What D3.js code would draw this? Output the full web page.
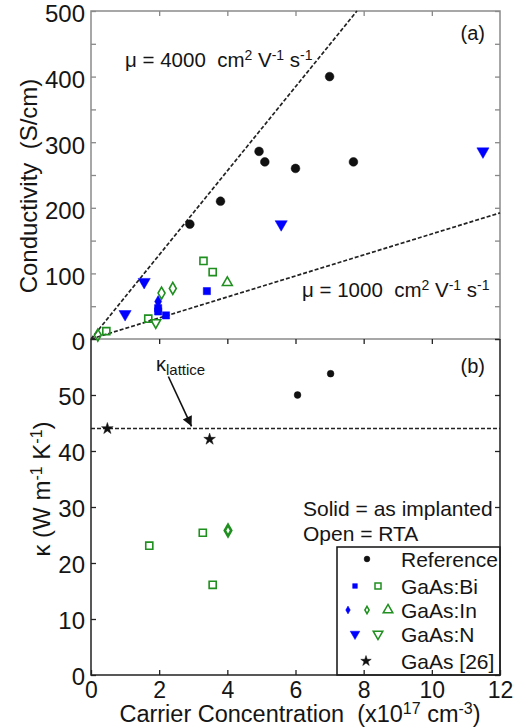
<!DOCTYPE html>
<html>
<head>
<meta charset="utf-8">
<script src="https://cdn.jsdelivr.net/npm/d3@7"></script>
<style>
  body { margin: 0; background: #fff; }
  svg { display: block; font-family: "Liberation Sans", Arial, sans-serif; }
  text { fill: #151515; }
</style>
</head>
<body>
<svg id="chart" width="516" height="727"></svg>
<script>
// carrier concentration (x1e17 cm^-3) vs conductivity (S/cm), panel (a)
var referenceSigma = [[2.9,175],[3.8,210],[4.93,286],[5.1,270],[6.0,260],[7.0,400],[7.7,270]];
var biSolidSigma = [[1.97,47],[1.97,42],[2.2,36],[3.4,73]];
var biRtaSigma = [[0.45,12],[1.68,31],[3.3,119],[3.57,102]];
var inSolidSigma = [[1.97,57]];
var inRtaSigma = [[0.2,6],[2.07,70],[2.4,77]];
var inTriSigma = [[4.0,86]];
var nSolidSigma = [[1.0,38],[1.56,87],[5.58,175],[11.5,286]];
var nRtaSigma = [[1.9,25]];
var mobilities = [4000, 1000];

// panel (b) thermal conductivity (W m-1 K-1)
var referenceKappa = [[6.06,50],[7.03,53.8]];
var biRtaKappa = [[1.71,23.1],[3.28,25.4],[3.57,16.1]];
var inRtaKappa = [[4.02,25.8]];
var gaasKappa = [[0.48,44],[3.48,42.1]];
var kappaLattice = 44;

var xTicks = [0,2,4,6,8,10,12];
var sigmaTicks = d3.range(0, 501, 50);
var kappaTicks = [0,10,20,30,40,50,60];
var legendRows = ["Reference", "GaAs:Bi", "GaAs:In", "GaAs:N", "GaAs [26]"];

var BLUE = "#0000ff", GREEN = "#1f8f1f", BLACK = "#111";

var svg = d3.select("#chart");
var L = 91, R = 500, T = 11, M = 339, B = 675;

var x = d3.scaleLinear().domain([0, 12]).range([L, R]);
var yTop = d3.scaleLinear().domain([0, 500]).range([M, T]);
var yBot = d3.scaleLinear().domain([0, 60]).range([B, M]);

function styleAxis(g, col, fs) {
  g.select(".domain").remove();
  g.selectAll(".tick line").attr("stroke", col).attr("stroke-width", 1.3);
  g.selectAll(".tick text").attr("fill", "#151515").style("font-size", (fs || 24) + "px")
    .attr("font-family", "Liberation Sans, Arial, sans-serif");
}

// ---- panel (a) ----
svg.append("g").attr("transform", "translate(" + L + ",0)")
  .call(d3.axisLeft(yTop).tickValues(sigmaTicks).tickSizeInner(-5).tickSizeOuter(0).tickPadding(6)
    .tickFormat(function(d){ return d % 100 === 0 ? d : ""; }))
  .call(styleAxis, "#888")
  .selectAll(".tick text").attr("dy", "0.45em");
svg.append("g").attr("transform", "translate(" + R + ",0)")
  .call(d3.axisRight(yTop).tickValues(sigmaTicks).tickSizeInner(-5).tickSizeOuter(0).tickFormat(""))
  .call(styleAxis, "#888");
svg.append("g").attr("transform", "translate(0," + T + ")")
  .call(d3.axisTop(x).tickValues(xTicks.slice(1, -1)).tickSizeInner(-5).tickSizeOuter(0).tickFormat(""))
  .call(styleAxis, "#888");

svg.append("rect").attr("x", L).attr("y", T).attr("width", R - L).attr("height", M - T)
  .attr("fill", "none").attr("stroke", "#8a8a8a").attr("stroke-width", 1.5);

// mobility lines sigma = n q mu
mobilities.forEach(function(mu) {
  var slope = mu * 1.602e-19 * 1e17;
  var xEnd = Math.min(12, 500 / slope);
  svg.append("line")
    .attr("x1", x(0)).attr("y1", yTop(0))
    .attr("x2", x(xEnd)).attr("y2", yTop(xEnd * slope))
    .attr("stroke", "#222").attr("stroke-width", 1.7).attr("stroke-dasharray", "4,2");
});

function muLabel(tx, ty, mu) {
  var t = svg.append("text").attr("x", tx).attr("y", ty).style("font-size", "20.5px")
    .attr("xml:space", "preserve");
  t.append("tspan").text("\u03bc = " + mu + "  cm");
  t.append("tspan").attr("dy", -7).style("font-size", "14px").text("2");
  t.append("tspan").attr("dy", 7).text(" V");
  t.append("tspan").attr("dy", -7).style("font-size", "14px").text("-1");
  t.append("tspan").attr("dy", 7).text(" s");
  t.append("tspan").attr("dy", -7).style("font-size", "14px").text("-1");
}
muLabel(125, 67, mobilities[0]);
muLabel(302, 297, mobilities[1]);

svg.append("text").attr("x", 485).attr("y", 40).attr("text-anchor", "end")
  .style("font-size", "20px").text("(a)");

// ---- panel (b) ----
svg.append("g").attr("transform", "translate(" + L + ",0)")
  .call(d3.axisLeft(yBot).tickValues(kappaTicks).tickSizeInner(-5).tickSizeOuter(0).tickPadding(6)
    .tickFormat(function(d){ return d === 60 ? "" : d; }))
  .call(styleAxis, "#222")
  .selectAll(".tick text").attr("dy", "0.4em");
svg.append("g").attr("transform", "translate(" + R + ",0)")
  .call(d3.axisRight(yBot).tickValues(kappaTicks).tickSizeInner(-5).tickSizeOuter(0).tickFormat(""))
  .call(styleAxis, "#222");
svg.append("g").attr("transform", "translate(0," + M + ")")
  .call(d3.axisTop(x).tickValues(xTicks.slice(1, -1)).tickSizeInner(-5).tickSizeOuter(0).tickFormat(""))
  .call(styleAxis, "#222");

// lattice line
svg.append("line").attr("x1", x(0)).attr("x2", x(12))
  .attr("y1", yBot(kappaLattice)).attr("y2", yBot(kappaLattice))
  .attr("stroke", "#222").attr("stroke-width", 1.5).attr("stroke-dasharray", "4,2");

svg.append("defs").append("marker").attr("id", "head")
  .attr("viewBox", "0 0 10 10").attr("refX", 10).attr("refY", 5)
  .attr("markerWidth", 14).attr("markerHeight", 10).attr("markerUnits", "userSpaceOnUse")
  .attr("orient", "auto")
  .append("path").attr("d", "M0,0L10,5L0,10z").attr("fill", "#111");
svg.append("line")
  .attr("x1", x(2.27)).attr("y1", yBot(53.3))
  .attr("x2", x(2.95)).attr("y2", yBot(44.4))
  .attr("stroke", "#111").attr("stroke-width", 1.6).attr("marker-end", "url(#head)");

var kl = svg.append("text").attr("x", 156).attr("y", 371).style("font-size", "20px");
kl.append("tspan").text("\u03ba");
kl.append("tspan").attr("dy", 4).style("font-size", "15px").text("lattice");

svg.append("text").attr("x", 485).attr("y", 373).attr("text-anchor", "end")
  .style("font-size", "20px").text("(b)");

svg.append("text").attr("x", 303).attr("y", 516).style("font-size", "21px").text("Solid = as implanted");
svg.append("text").attr("x", 303).attr("y", 541).style("font-size", "21px").text("Open = RTA");

// ---- markers ----
var sym = {
  circle: d3.symbol().type(d3.symbolCircle),
  square: d3.symbol().type(d3.symbolSquare),
  diamond: d3.symbol().type(d3.symbolDiamond),
  tri: d3.symbol().type(d3.symbolTriangle),
  star: d3.symbol().type(d3.symbolStar)
};

function plot(data, y, shape, size, col, filled, rot, sw) {
  svg.append("g").selectAll("path").data(data).join("path")
    .attr("d", sym[shape].size(size)())
    .attr("transform", function(d) {
      return "translate(" + x(d[0]) + "," + y(d[1]) + ")" + (rot ? " rotate(" + rot + ")" : "");
    })
    .attr("fill", filled ? col : "none")
    .attr("stroke", col).attr("stroke-width", sw || (filled ? 0.5 : 1.6));
}

plot(referenceSigma, yTop, "circle", 60, BLACK, true);
plot(biRtaSigma, yTop, "square", 50, GREEN, false);
plot(inRtaSigma, yTop, "diamond", 42, GREEN, false);
plot(inTriSigma, yTop, "tri", 42, GREEN, false);
plot(nRtaSigma, yTop, "tri", 42, GREEN, false, 180);
plot(biSolidSigma, yTop, "square", 52, BLUE, true);
plot(inSolidSigma, yTop, "diamond", 42, BLUE, true);
plot(nSolidSigma, yTop, "tri", 64, BLUE, true, 180);

plot(referenceKappa, yBot, "circle", 36, BLACK, true);
plot(biRtaKappa, yBot, "square", 50, GREEN, false);
plot(inRtaKappa, yBot, "diamond", 36, GREEN, false, 0, 2.6);
plot(gaasKappa, yBot, "star", 42, BLACK, true);

// ---- legend ----
var lg = svg.append("g");
lg.append("rect").attr("x", 337).attr("y", 547).attr("width", R - 337).attr("height", B - 547)
  .attr("fill", "#fff").attr("stroke", "#111").attr("stroke-width", 1.5);
var rowY = [559, 586, 610, 634, 661];
var legendMarks = [
  [[367, "circle", 26, BLACK, true, 0]],
  [[355, "square", 22, BLUE, true, 0], [378, "square", 36, GREEN, false, 0]],
  [[348, "diamond", 18, BLUE, true, 0], [367, "diamond", 16, GREEN, false, 0], [388, "tri", 40, GREEN, false, 0]],
  [[355, "tri", 40, BLUE, true, 180], [378, "tri", 40, GREEN, false, 180]],
  [[366, "star", 34, BLACK, true, 0]]
];
legendRows.forEach(function(name, i) {
  legendMarks[i].forEach(function(m) {
    lg.append("path").attr("d", sym[m[1]].size(m[2])())
      .attr("transform", "translate(" + m[0] + "," + rowY[i] + ") rotate(" + m[5] + ")")
      .attr("fill", m[4] ? m[3] : "none").attr("stroke", m[3]).attr("stroke-width", m[4] ? 0.5 : 1.5);
  });
  lg.append("text").attr("x", 401).attr("y", rowY[i] + 8).style("font-size", "21px").text(name);
});

// bottom axis + frame over legend
svg.append("g").attr("transform", "translate(0," + B + ")")
  .call(d3.axisBottom(x).tickValues(xTicks).tickSizeInner(-5).tickSizeOuter(0).tickPadding(7))
  .call(styleAxis, "#222", 23);
svg.append("path")
  .attr("d", "M" + L + "," + M + "V" + B + "H" + R + "V" + M)
  .attr("fill", "none").attr("stroke", "#222").attr("stroke-width", 1.5);

// ---- axis titles ----
svg.append("text").attr("transform", "translate(37,186) rotate(-90)").attr("text-anchor", "middle")
  .attr("xml:space", "preserve").style("font-size", "24px").text("Conductivity  (S/cm)");

var ky = svg.append("text").attr("transform", "translate(50,489) rotate(-90)").attr("text-anchor", "middle")
  .attr("xml:space", "preserve").style("font-size", "24px");
ky.append("tspan").text("\u03ba (W m");
ky.append("tspan").attr("dy", -8).style("font-size", "16px").text("-1");
ky.append("tspan").attr("dy", 8).text(" K");
ky.append("tspan").attr("dy", -8).style("font-size", "16px").text("-1");
ky.append("tspan").attr("dy", 8).text(")");

var xt = svg.append("text").attr("x", 300).attr("y", 722).attr("text-anchor", "middle")
  .attr("xml:space", "preserve").style("font-size", "23.5px");
xt.append("tspan").text("Carrier Concentration  (x10");
xt.append("tspan").attr("dy", -8).style("font-size", "16px").text("17");
xt.append("tspan").attr("dy", 8).text(" cm");
xt.append("tspan").attr("dy", -8).style("font-size", "16px").text("-3");
xt.append("tspan").attr("dy", 8).text(")");
</script>
</body>
</html>
